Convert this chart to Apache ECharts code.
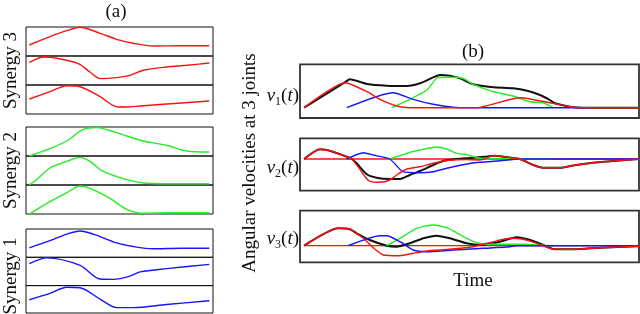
<!DOCTYPE html>
<html><head><meta charset="utf-8">
<script src="https://cdn.jsdelivr.net/npm/echarts@6/dist/echarts.min.js"></script>
<style>html,body{margin:0;padding:0;background:#fff}#c{width:640px;height:314px}</style>
</head><body><div id="c"></div>
<script>
// ---------- Panel (a): synergy waveforms  [time %, amplitude] ----------
const syn3Row1 = [[1.8,11],[12.8,19.3],[21.8,25.3],[28.9,28.7],[39.6,22.7],[48.5,16.7],[57.4,12.7],[68.1,10],[82.4,10.3],[98,10.3]];
const syn3Row2 = [[1.8,22.4],[9.3,28],[14.6,27.4],[28,21.4],[34.2,13],[39.6,6.4],[48.5,7.4],[55.6,9.7],[62.7,14.7],[75.2,18],[85.9,19.7],[98,22]];
const syn3Row3 = [[1.8,15],[12.8,22.3],[21.8,28.3],[28.9,27.3],[39.6,17.3],[48.5,7.3],[53.9,7],[61,8],[75.2,10],[98,13]];
const syn2Row1 = [[1.8,0],[12.8,7.4],[21.8,15],[30.6,26.7],[37.8,28.4],[48.5,23.4],[53.9,20],[62.7,15],[75.2,10.7],[85.9,5],[98,4]];
const syn2Row2 = [[1.8,0.3],[5.7,5.3],[12.8,17],[21.8,23.6],[28.9,27.6],[34.2,23.6],[41.3,13.6],[53.9,5.3],[62.7,2],[75.2,1.3],[98,1.3]];
const syn2Row3 = [[1.8,0],[12.8,12.3],[21.8,21.3],[28.9,28],[34.2,25.7],[44.9,15.7],[53.9,4.7],[62.7,0.7],[75.2,1.3],[98,1.3]];
const syn1Row1 = [[1.8,9.7],[12.8,17],[21.8,23.7],[28.9,27],[36,23.7],[48.5,14.7],[57.4,11],[68.1,8.7],[82.4,9.3],[98,9.3]];
const syn1Row2 = [[1.8,22.4],[11.1,28.4],[28.9,20.7],[39.6,6.7],[46.7,6.4],[55.6,9.7],[61,14],[75.2,17.4],[98,21.7]];
const syn1Row3 = [[1.8,14],[12.8,20.7],[21.8,27.3],[28.9,26.7],[39.6,14.7],[48.5,5.7],[57.4,5.7],[75.2,9],[98,13]];
const synLabels = ['Synergy 3','Synergy 2','Synergy 1'];

// ---------- Panel (b): angular velocities  [time %, velocity] ----------
const zeroLine = [[1.2,0],[100,0]];
const v1Black = [[1.2,0],[13.3,25.5],[14.7,28.4],[19.8,23.7],[25.6,22],[31.5,21.7],[35.4,24.4],[39.3,30.4],[41.3,32.7],[44.2,32],[47.2,29.4],[51.1,23.4],[57,20.4],[62.8,19.4],[67,17],[70.8,12.7],[73.7,7.7],[75.2,4.4],[79.6,1],[83.5,0],[100,0]];
const v1Red   = [[1.2,0],[13.3,25],[19.8,16],[23.6,8.4],[28.5,1.7],[32.4,0],[52.1,0],[64.9,10],[74.6,4.4],[79.6,1],[83.5,0],[100,0]];
const v1Green = [[27,0],[32.4,8.4],[37.4,17.7],[40.3,29.4],[42.2,30.4],[46.2,30.4],[48.5,28.5],[51.1,23.4],[57,16],[62.8,11.7],[67.8,6],[71.7,5],[74.2,1],[74.6,0]];
const v1Blue  = [[13.8,0],[27.5,15],[33.4,8.4],[39.3,3.4],[45.1,0.5],[50.1,0],[83.5,0]];

const v2Black = [[1.2,0],[5.9,9.7],[9.7,7.3],[13.8,2.3],[15.3,0],[16.7,-4.3],[19.7,-15.3],[22.6,-18.7],[26.5,-20],[29.5,-20],[32.4,-16],[35.4,-12],[39.3,-6],[42.2,-2],[46.2,0],[50.1,1],[55.1,2.5],[57,3.3],[61.9,1.5],[64.9,0],[68.8,-6],[71.7,-8.7],[76.7,-8.8],[80.6,-6.5],[86.4,-3.7],[92.3,-2],[100,0]];
const v2Red   = [[1.2,0],[5.9,9.7],[9.7,7.3],[13.8,2.3],[15.3,0],[17.1,-7.7],[19.2,-17.7],[20.6,-22.3],[23.6,-23.3],[26.5,-21],[28.5,-16],[31.5,-10],[35.4,-7.7],[39.3,-4.3],[43.3,-1.5],[49.2,-0.5],[53.1,-1],[57,3.3],[61.9,1.3],[64.9,0],[68.8,-6],[71.7,-8.7],[76.7,-8.8],[80.6,-6.5],[86.4,-3.7],[92.3,-2],[100,0]];
const v2Green = [[26.5,0],[31.5,5.7],[35.4,9],[40.3,12],[43.3,10],[46.2,5.7],[49.2,4.3],[52.1,1.3],[55.1,0.5],[74.2,0]];
const v2Blue  = [[13.8,0],[18.7,6.3],[21.6,4],[26.5,0],[30.4,-12.7],[35.4,-13.7],[39.3,-12.7],[43.3,-9.3],[49.2,-5],[53.1,-3.3],[59,-1.7],[64.9,0],[100,0]];

const v3Black = [[1.2,0],[11.3,17.4],[14.7,16.4],[16.7,12.4],[20.6,5.7],[25.6,0],[28.5,-1],[32.4,2.4],[36.4,7.4],[40.3,10],[44.2,7.4],[49.2,2.4],[53.1,0.7],[59,4],[63.9,8.4],[68.8,4.7],[73.7,-2],[74.6,-3.3],[80.6,-3.6],[88.5,-2],[99.3,-0.6],[100,-0.5]];
const v3Red   = [[1.2,0],[11.3,17.4],[14.7,16.4],[18.7,7.4],[21.6,-2],[24.6,-9.3],[29.5,-10],[33.4,-7.6],[37.4,-5.3],[44.2,-3.6],[51.1,-1],[57,4],[61.9,7.4],[65.9,6.4],[69.8,2.4],[74.6,-3.3],[80.6,-3.6],[88.5,-2],[99.3,-0.6],[100,-0.5]];
const v3Green = [[25.6,0],[29.5,7.4],[34.4,17.4],[39.3,20.7],[43.3,18],[48.2,9],[52.1,3],[57,1.4],[65.9,1.4],[73.7,0],[74.6,0]];
const v3Blue  = [[14.2,0],[23.6,10],[25.6,10],[29.5,4],[33.4,-4.3],[37.4,-6],[44.2,-4.6],[54.1,-2.6],[61,-1.3],[63.9,0],[100,0]];
const vLabels = ['1','2','3'];

// ---------- layout ----------
const FONT = 'Liberation Serif, Times New Roman, serif';
const RED = '#ff1010', GREEN = '#22ee22', BLUE = '#1515ff', BLACK = '#111';
const aRows = [
  {top:27, h:29, data:syn3Row1, color:RED}, {top:56, h:29, data:syn3Row2, color:RED}, {top:85, h:29, data:syn3Row3, color:RED},
  {top:127, h:29, data:syn2Row1, color:GREEN}, {top:156, h:29, data:syn2Row2, color:GREEN}, {top:185, h:29, data:syn2Row3, color:GREEN},
  {top:229, h:28.3, data:syn1Row1, color:BLUE}, {top:257.3, h:28.3, data:syn1Row2, color:BLUE}, {top:285.6, h:27.4, data:syn1Row3, color:BLUE}
];
const bPlots = [
  {top:64.3, h:53.7, min:-10.3, max:43.4, black:v1Black, red:v1Red, green:v1Green, blue:v1Blue, zero:false, labY:96},
  {top:138.3, h:52.4, min:-31.7, max:20.7, black:v2Black, red:v2Red, green:v2Green, blue:v2Blue, zero:true, labY:168},
  {top:210.7, h:51.6, min:-16.6, max:35, black:v3Black, red:v3Red, green:v3Green, blue:v3Blue, zero:true, labY:239}
];

const grid = [], xAxis = [], yAxis = [], series = [];
aRows.forEach((r, i) => {
  grid.push({left:26, width:187, top:r.top, height:r.h, show:true, borderColor:'#111', borderWidth:1, backgroundColor:'transparent'});
  xAxis.push({type:'value', gridIndex:i, min:0, max:100, show:false});
  yAxis.push({type:'value', gridIndex:i, min:0, max:29, show:false});
  series.push({type:'line', xAxisIndex:i, yAxisIndex:i, data:r.data, showSymbol:false, smooth:0.3,
    lineStyle:{color:r.color, width:1.4}, silent:true});
});
bPlots.forEach((p, k) => {
  const i = aRows.length + k;
  grid.push({left:300, width:339, top:p.top, height:p.h, show:true, borderColor:'#333', borderWidth:1.8, backgroundColor:'transparent'});
  xAxis.push({type:'value', gridIndex:i, min:0, max:100, show:false});
  yAxis.push({type:'value', gridIndex:i, min:p.min, max:p.max, show:false});
  const mk = (d, c, w) => ({type:'line', xAxisIndex:i, yAxisIndex:i, data:d, showSymbol:false, smooth:0.2,
    lineStyle:{color:c, width:w}, silent:true});
  if (p.zero) series.push(mk(zeroLine, RED, 1.3));
  series.push(mk(p.black, BLACK, 2));
  series.push(mk(p.green, GREEN, 1.4));
  series.push(mk(p.blue, BLUE, 1.4));
  series.push(mk(p.red, RED, 1.4));
});

const txt = (x, y, text, extra) => Object.assign({type:'text', x:x, y:y, silent:true,
  style:{text:text, font:'19px ' + FONT, fill:'#111', align:'center', verticalAlign:'middle'}}, extra || {});

const graphic = [
  txt(116, 12, '(a)'),
  txt(473, 52, '(b)'),
  txt(473, 281, 'Time'),
  txt(250, 163, 'Angular velocities at 3 joints', {rotation:Math.PI/2}),
  txt(11, 70.5, synLabels[0], {rotation:Math.PI/2}),
  txt(11, 170.5, synLabels[1], {rotation:Math.PI/2}),
  txt(11, 276, synLabels[2], {rotation:Math.PI/2})
];
bPlots.forEach((p, k) => {
  graphic.push({type:'text', x:299, y:p.labY, silent:true, style:{
    text:'{v|v}{s|' + vLabels[k] + '}{n|(}{v|t}{n|)}', align:'right', verticalAlign:'middle', fill:'#111',
    rich:{
      v:{fontFamily:FONT, fontStyle:'italic', fontSize:19, lineHeight:24, verticalAlign:'middle', fill:'#111'},
      n:{fontFamily:FONT, fontSize:19, lineHeight:24, verticalAlign:'middle', fill:'#111'},
      s:{fontFamily:FONT, fontSize:12, lineHeight:12, verticalAlign:'bottom', fill:'#111'}
    }}});
});

const chart = echarts.init(document.getElementById('c'), null, {renderer:'canvas'});
chart.setOption({animation:false, backgroundColor:'#fff', grid, xAxis, yAxis, series, graphic});
</script></body></html>
